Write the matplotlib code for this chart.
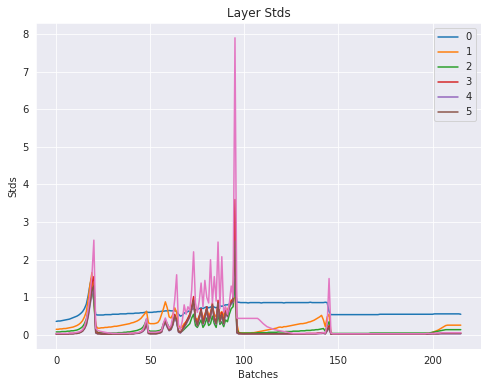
import matplotlib
matplotlib.use('Agg')
import matplotlib.pyplot as plt
import seaborn as sns

# std of each layer per batch
layer0 = [0.36,0.37,0.37,0.38,0.39,0.40,0.41,0.42,0.44,0.46,0.48,0.50,0.53,0.57,0.62,0.70,
          0.82,1.05,1.35,1.55,0.90,0.54,
          0.53,0.53,0.53,0.53,0.54,0.54,0.54,0.54,0.55,0.55,0.55,0.55,0.56,0.56,0.56,0.56,0.57,0.57,0.57,0.57,0.58,0.58,0.58,0.59,0.59,
          0.60,0.61,0.60,0.60,
          0.60,0.61,0.61,0.62,0.62,0.63,0.63,0.64,0.64,0.65,0.64,0.64,0.65,
          0.62,0.55,0.50,0.52,0.58,0.60,0.62,0.65,0.68,0.70,0.66,0.68,0.70,0.72,0.70,0.73,0.75,0.72,0.74,0.76,
          0.74,0.72,0.75,0.78,0.76,0.78,0.80,0.80,0.82,0.85,0.88,
          1.30,0.87,
          0.87,0.86,0.86,0.86,0.86,0.85,0.86,0.86,0.86,0.86,0.86,0.86,0.85,0.86,0.86,0.86,0.86,0.86,0.86,0.86,
          0.86,0.86,0.86,0.86,0.85,0.86,0.86,0.86,0.86,0.86,0.86,0.86,0.86,0.86,0.86,0.86,0.86,0.86,0.87,0.86,
          0.86,0.86,0.86,0.86,0.86,0.86,0.87,
          0.86,0.62,0.54,
          0.54,0.54,0.54,0.54,0.54,0.54,0.54,0.54,0.54,0.54,0.54,0.54,0.54,0.54,0.54,0.54,0.54,0.54,0.54,0.54,
          0.54,0.54,0.54,0.54,0.54,0.55,0.55,0.55,0.55,0.55,0.55,0.55,0.55,0.55,0.55,0.55,0.55,0.55,0.55,0.55,
          0.55,0.55,0.55,0.55,0.55,0.55,0.55,0.55,0.55,0.55,0.55,0.55,0.55,0.55,0.56,0.56,0.56,0.56,0.56,0.56,
          0.56,0.56,0.56,0.56,0.56,0.56,0.56,0.56,0.55]

layer1 = [0.15,0.15,0.16,0.16,0.17,0.17,0.18,0.19,0.20,0.21,0.23,0.25,0.28,0.32,0.38,0.48,
          0.62,0.95,1.35,1.66,0.90,0.25,
          0.18,0.18,0.19,0.19,0.20,0.20,0.21,0.21,0.22,0.23,0.23,0.24,0.25,0.26,0.27,0.28,0.29,0.30,0.32,0.33,0.35,0.37,0.40,0.44,0.50,
          0.56,0.63,0.32,0.30,
          0.30,0.30,0.31,0.33,0.40,0.55,0.70,0.88,0.72,0.48,0.45,0.55,0.72,
          0.60,0.25,0.18,0.22,0.30,0.35,0.42,0.55,0.70,0.85,0.45,0.40,0.50,0.62,0.45,0.55,0.70,0.50,0.60,0.75,
          0.55,0.48,0.80,0.55,0.62,0.50,0.70,0.65,0.80,0.92,0.95,
          1.00,0.30,
          0.06,0.05,0.05,0.05,0.05,0.05,0.05,0.06,0.06,0.07,0.08,0.09,
          0.10,0.11,0.12,0.13,0.14,0.15,0.16,0.17,0.18,0.20,0.21,0.20,0.22,0.22,0.23,0.24,0.25,0.26,0.27,0.28,
          0.29,0.30,0.30,0.31,0.32,0.34,0.35,0.37,0.39,0.42,0.45,0.48,0.52,0.40,0.22,
          0.48,0.55,0.05,
          0.03,0.03,0.03,0.03,0.03,0.03,0.03,0.03,0.03,0.03,0.03,0.03,0.03,0.03,0.03,0.03,0.03,0.03,0.03,0.03,
          0.03,0.03,0.03,0.03,0.03,0.03,0.03,0.03,0.03,0.03,0.03,0.03,0.03,0.03,0.03,0.03,0.03,0.03,0.03,0.03,
          0.03,0.03,0.03,0.03,0.03,0.03,0.03,0.03,0.03,0.03,0.04,0.04,
          0.05,0.07,0.09,0.11,0.13,0.16,0.19,0.22,0.25,0.26,0.26,0.26,0.26,0.26,0.26,0.26,0.26]

layer2 = [0.08,0.08,0.08,0.09,0.09,0.09,0.10,0.10,0.11,0.11,0.12,0.13,0.15,0.18,0.22,0.30,
          0.42,0.65,0.95,1.25,0.90,0.12,
          0.07,0.06,0.06,0.05,0.05,0.05,0.05,0.05,0.05,0.05,0.05,0.06,0.06,0.06,0.07,0.07,0.08,0.08,0.09,0.10,0.11,0.12,0.14,0.16,0.20,
          0.28,0.42,0.12,0.10,
          0.10,0.10,0.10,0.11,0.12,0.15,0.30,0.40,0.30,0.20,0.22,0.35,0.50,
          0.35,0.10,0.08,0.10,0.15,0.20,0.25,0.30,0.45,0.55,0.25,0.20,0.30,0.40,0.20,0.28,0.45,0.25,0.30,0.50,
          0.30,0.20,0.55,0.28,0.35,0.22,0.40,0.35,0.55,0.70,0.75,
          1.50,0.15,
          0.06,0.05,0.05,0.05,0.05,0.05,0.05,0.05,0.05,0.05,0.06,0.06,0.06,0.06,0.06,0.06,0.07,0.07,0.07,0.07,
          0.07,0.08,0.08,0.08,0.08,0.09,0.09,0.09,0.09,0.10,0.10,0.10,0.10,0.11,0.11,0.11,0.12,0.12,0.12,0.13,
          0.13,0.14,0.14,0.15,0.16,0.17,0.10,
          0.25,0.35,0.04,
          0.04,0.04,0.04,0.04,0.04,0.04,0.04,0.04,0.04,0.04,0.04,0.04,0.04,0.04,0.04,0.04,0.04,0.04,0.04,0.04,
          0.05,0.05,0.05,0.05,0.05,0.05,0.05,0.05,0.05,0.05,0.05,0.05,0.05,0.05,0.05,0.05,0.05,0.05,0.05,0.05,
          0.05,0.05,0.05,0.05,0.05,0.05,0.05,0.05,0.05,0.05,0.05,0.05,
          0.06,0.07,0.08,0.09,0.10,0.11,0.12,0.13,0.14,0.14,0.14,0.14,0.14,0.14,0.14,0.14,0.14]

layer3 = [0.03,0.03,0.03,0.03,0.03,0.03,0.03,0.04,0.04,0.04,0.05,0.05,0.06,0.08,0.12,0.20,
          0.35,0.60,0.95,1.40,1.55,0.10,
          0.05,0.04,0.04,0.03,0.03,0.03,0.03,0.03,0.03,0.03,0.03,0.03,0.03,0.03,0.03,0.03,0.03,0.04,0.04,0.04,0.05,0.05,0.06,0.08,0.12,
          0.20,0.35,0.05,0.05,
          0.05,0.05,0.05,0.06,0.07,0.10,0.28,0.38,0.25,0.15,0.18,0.30,0.55,
          0.40,0.10,0.08,0.15,0.25,0.35,0.45,0.55,0.75,1.02,0.45,0.30,0.50,0.70,0.35,0.50,0.75,0.40,0.55,0.85,
          0.45,0.35,0.92,0.40,0.60,0.35,0.65,0.55,0.80,0.90,0.95,
          3.60,0.10,
          0.04,0.04,0.03,0.03,0.03,0.03,0.03,0.03,0.03,0.03,0.03,0.03,0.03,0.03,0.03,0.03,0.03,0.03,0.03,0.03,
          0.03,0.03,0.03,0.03,0.03,0.03,0.03,0.03,0.03,0.03,0.03,0.03,0.03,0.03,0.03,0.03,0.04,0.04,0.04,0.04,
          0.04,0.04,0.05,0.05,0.06,0.06,0.04,
          0.15,0.25,0.03,
          0.03,0.03,0.03,0.03,0.03,0.03,0.03,0.03,0.03,0.03,0.03,0.03,0.03,0.03,0.03,0.03,0.03,0.03,0.03,0.03,
          0.03,0.03,0.03,0.03,0.03,0.03,0.03,0.03,0.03,0.03,0.03,0.03,0.03,0.03,0.03,0.03,0.03,0.03,0.03,0.03,
          0.03,0.03,0.03,0.03,0.03,0.03,0.03,0.03,0.03,0.03,0.03,0.03,0.03,0.04,0.04,0.04,0.04,0.04,0.05,0.05,
          0.05,0.05,0.05,0.05,0.05,0.05,0.05,0.05,0.05]

layer4 = [0.02,0.02,0.02,0.02,0.02,0.02,0.02,0.03,0.03,0.03,0.04,0.04,0.05,0.07,0.10,0.16,
          0.26,0.48,0.80,1.10,1.20,0.05,
          0.03,0.03,0.02,0.02,0.02,0.02,0.02,0.02,0.02,0.02,0.02,0.02,0.02,0.02,0.02,0.02,0.02,0.03,0.03,0.03,0.04,0.04,0.05,0.06,0.09,
          0.14,0.28,0.04,0.03,
          0.03,0.03,0.03,0.04,0.05,0.07,0.22,0.32,0.20,0.11,0.14,0.26,0.46,
          0.35,0.07,0.05,0.11,0.20,0.28,0.38,0.47,0.66,0.88,0.38,0.24,0.42,0.62,0.28,0.42,0.66,0.33,0.48,0.76,
          0.38,0.28,0.82,0.33,0.52,0.28,0.58,0.48,0.72,0.82,0.86,
          2.30,0.05,
          0.03,0.03,0.03,0.03,0.03,0.03,0.03,0.03,0.03,0.03,0.03,0.03,0.03,0.03,0.03,0.03,0.03,0.03,0.03,0.03,
          0.03,0.03,0.03,0.03,0.03,0.03,0.03,0.03,0.03,0.03,0.03,0.03,0.03,0.03,0.03,0.03,0.03,0.03,0.03,0.03,
          0.03,0.03,0.03,0.04,0.04,0.04,0.03,
          0.10,0.18,0.02,
          0.02,0.02,0.02,0.02,0.02,0.02,0.02,0.02,0.02,0.02,0.02,0.02,0.02,0.02,0.02,0.02,0.02,0.02,0.02,0.02,
          0.02,0.02,0.02,0.02,0.02,0.02,0.02,0.02,0.02,0.02,0.02,0.02,0.02,0.02,0.02,0.02,0.02,0.02,0.02,0.02,
          0.02,0.02,0.02,0.02,0.02,0.02,0.02,0.02,0.02,0.02,0.02,0.02,0.03,0.03,0.03,0.03,0.03,0.03,0.03,0.03,
          0.03,0.03,0.03,0.03,0.03,0.03,0.03,0.03,0.03]

layer5 = [0.02,0.02,0.02,0.02,0.02,0.02,0.02,0.03,0.03,0.03,0.04,0.04,0.05,0.07,0.10,0.17,
          0.28,0.52,0.85,1.20,1.30,0.06,
          0.03,0.03,0.02,0.02,0.02,0.02,0.02,0.02,0.02,0.02,0.02,0.02,0.02,0.02,0.02,0.02,0.02,0.03,0.03,0.03,0.04,0.05,0.05,0.07,0.10,
          0.16,0.30,0.04,0.03,
          0.03,0.03,0.03,0.04,0.05,0.08,0.25,0.35,0.22,0.12,0.15,0.28,0.50,
          0.38,0.08,0.06,0.12,0.22,0.30,0.40,0.50,0.70,0.92,0.40,0.25,0.45,0.65,0.30,0.45,0.70,0.35,0.50,0.80,
          0.40,0.30,0.85,0.35,0.55,0.30,0.60,0.50,0.75,0.85,0.90,
          2.50,0.06,
          0.03,0.03,0.03,0.03,0.03,0.03,0.03,0.03,0.03,0.03,0.03,0.03,0.03,0.03,0.03,0.03,0.03,0.03,0.03,0.03,
          0.03,0.03,0.03,0.03,0.03,0.03,0.03,0.03,0.03,0.03,0.03,0.03,0.03,0.03,0.03,0.03,0.03,0.03,0.03,0.03,
          0.03,0.03,0.04,0.04,0.04,0.05,0.03,
          0.12,0.20,0.02,
          0.02,0.02,0.02,0.02,0.02,0.02,0.02,0.02,0.02,0.02,0.02,0.02,0.02,0.02,0.02,0.02,0.02,0.02,0.02,0.02,
          0.02,0.02,0.02,0.02,0.02,0.02,0.02,0.02,0.02,0.02,0.02,0.02,0.02,0.02,0.02,0.02,0.02,0.02,0.02,0.02,
          0.02,0.02,0.02,0.02,0.02,0.02,0.02,0.02,0.02,0.02,0.02,0.03,0.03,0.03,0.03,0.03,0.03,0.04,0.04,0.04,
          0.04,0.04,0.04,0.04,0.04,0.04,0.04,0.04,0.04]

layer6 = [0.04,0.04,0.04,0.04,0.04,0.04,0.04,0.05,0.05,0.05,0.06,0.07,0.08,0.10,0.14,0.22,
          0.40,0.70,1.10,1.60,2.52,0.18,
          0.12,0.10,0.09,0.08,0.07,0.06,0.05,0.05,0.04,0.04,0.04,0.04,0.04,0.04,0.04,0.04,0.04,0.04,0.05,0.05,0.05,0.06,0.07,0.09,0.12,
          0.25,0.44,0.08,0.07,
          0.07,0.07,0.07,0.08,0.09,0.12,0.32,0.45,0.30,0.18,0.25,0.50,0.95,
          1.60,0.21,0.15,0.37,0.80,0.55,0.75,0.65,1.20,2.21,0.85,0.60,0.90,1.38,0.75,1.45,1.00,0.85,2.00,0.85,
          1.55,0.90,2.47,0.70,2.08,0.60,0.75,0.55,0.85,1.30,1.00,
          7.90,0.45,
          0.44,0.44,0.44,0.44,0.44,0.44,0.44,0.44,0.44,0.44,0.44,
          0.40,0.35,0.30,0.26,0.22,0.20,0.18,0.16,0.14,0.13,0.12,0.11,0.10,0.09,0.08,0.07,0.06,0.05,
          0.04,0.04,0.04,0.04,0.04,0.04,0.04,0.04,0.04,0.04,0.04,0.04,0.04,0.04,0.04,0.05,0.06,0.05,
          0.30,1.50,0.05,
          0.03,0.03,0.03,0.03,0.03,0.03,0.03,0.03,0.03,0.03,0.03,0.03,0.03,0.03,0.03,0.03,0.03,0.03,0.03,0.03,
          0.03,0.03,0.03,0.03,0.03,0.03,0.03,0.03,0.03,0.03,0.03,0.03,0.03,0.03,0.03,0.03,0.03,0.03,0.03,0.03,
          0.03,0.03,0.03,0.03,0.03,0.03,0.03,0.03,0.03,0.03,0.04,0.04,0.04,0.04,0.04,0.05,0.05,0.05,0.06,0.06,
          0.06,0.06,0.06,0.06,0.06,0.06,0.06,0.06,0.06]

layers = [layer0, layer1, layer2, layer3, layer4, layer5, layer6]
legend_labels = ['0', '1', '2', '3', '4', '5']

sns.set_style('darkgrid')
fig = plt.figure(figsize=(488/72, 387/72), dpi=72)
ax = fig.add_subplot(111)
for stds in layers:
    ax.plot(range(len(stds)), stds)
ax.legend(legend_labels, loc='upper right')
ax.set_title('Layer Stds')
ax.set_xlabel('Batches')
ax.set_ylabel('Stds')
fig.subplots_adjust(left=36/488, right=481/488, top=1-23/387, bottom=1-349/387)
fig.savefig('out.png', dpi=72)
